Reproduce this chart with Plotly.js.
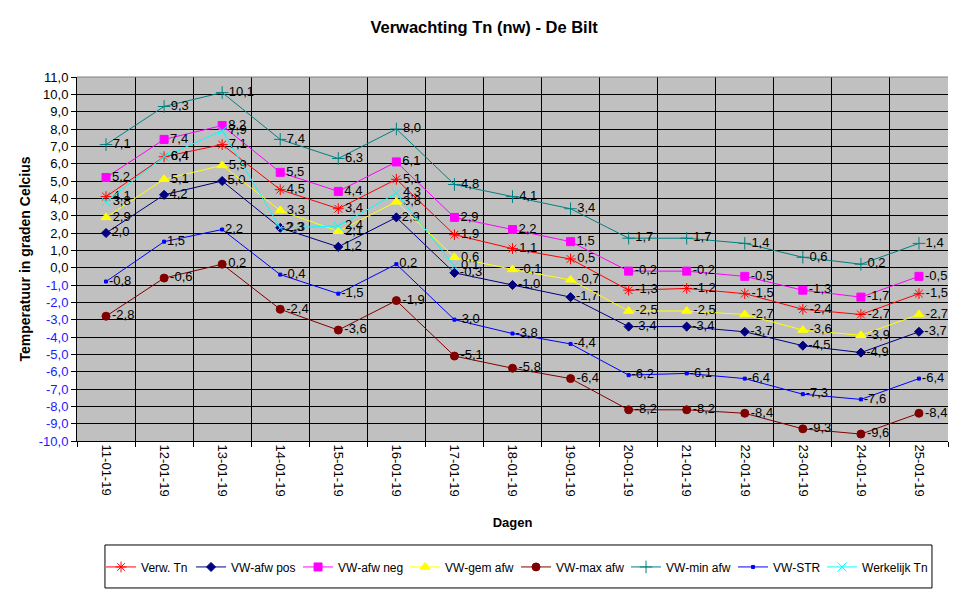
<!DOCTYPE html>
<html>
<head>
<meta charset="utf-8">
<script src="https://cdn.plot.ly/plotly-3.0.1.min.js"></script>
<style>
  html, body { margin: 0; padding: 0; background: #fff; }
  #chart { width: 974px; height: 598px; }
</style>
</head>
<body>
<div id="chart"></div>
<script>
const dagen = ['11-01-19', '12-01-19', '13-01-19', '14-01-19', '15-01-19', '16-01-19', '17-01-19', '18-01-19',
    '19-01-19', '20-01-19', '21-01-19', '22-01-19', '23-01-19', '24-01-19', '25-01-19'];

const verwTn    = [4.1, 6.4, 7.1, 4.5, 3.4, 5.1, 1.9, 1.1, 0.5, -1.3, -1.2, -1.5, -2.4, -2.7, -1.5];
const afwPos    = [2.0, 4.2, 5.0, 2.3, 1.2, 2.9, -0.3, -1.0, -1.7, -3.4, -3.4, -3.7, -4.5, -4.9, -3.7];
const afwNeg    = [5.2, 7.4, 8.2, 5.5, 4.4, 6.1, 2.9, 2.2, 1.5, -0.2, -0.2, -0.5, -1.3, -1.7, -0.5];
const gemAfw    = [2.9, 5.1, 5.9, 3.3, 2.1, 3.8, 0.6, -0.1, -0.7, -2.5, -2.5, -2.7, -3.6, -3.9, -2.7];
const maxAfw    = [-2.8, -0.6, 0.2, -2.4, -3.6, -1.9, -5.1, -5.8, -6.4, -8.2, -8.2, -8.4, -9.3, -9.6, -8.4];
const minAfw    = [7.1, 9.3, 10.1, 7.4, 6.3, 8.0, 4.8, 4.1, 3.4, 1.7, 1.7, 1.4, 0.6, 0.2, 1.4];
const vwStr     = [-0.8, 1.5, 2.2, -0.4, -1.5, 0.2, -3.0, -3.8, -4.4, -6.2, -6.1, -6.4, -7.3, -7.6, -6.4];
const werkelijk = [3.8, 6.4, 7.9, 2.3, 2.4, 4.3, 0.1, null, null, null, null, null, null, null, null];

const yTicks = [11, 10, 9, 8, 7, 6, 5, 4, 3, 2, 1, 0, -1, -2, -3, -4, -5, -6, -7, -8, -9, -10];

const FONT = 'Liberation Sans, Arial, sans-serif';

// Dutch decimal comma
const nl = v => (v === null ? '' : v.toFixed(1).replace('.', ','));

function serie(name, y, color, symbol, size, legW) {
    return {
        x: dagen, y: y, name: name,
        type: 'scatter', mode: 'lines+markers+text',
        text: y.map(nl), textposition: 'middle right',
        textfont: { family: FONT, size: 13, color: '#000' },
        line: { color: color, width: 1 },
        marker: { color: color, symbol: symbol, size: size, line: { color: color, width: 1 } },
        legendwidth: legW,
        cliponaxis: false,
        connectgaps: false
    };
}

const traces = [
    serie('Verw. Tn', verwTn, '#FF0000', 'asterisk-open', 9, 45),
    serie('VW-afw pos', afwPos, '#000080', 'diamond', 7, 62),
    serie('VW-afw neg', afwNeg, '#FF00FF', 'square', 8, 62),
    serie('VW-gem afw', gemAfw, '#FFFF00', 'triangle-up', 9, 66),
    serie('VW-max afw', maxAfw, '#800000', 'circle', 8, 65),
    serie('VW-min afw', minAfw, '#008080', 'cross-thin-open', 9, 62),
    serie('VW-STR', vwStr, '#0000FF', 'square', 3, 44),
    serie('Werkelijk Tn', werkelijk, '#00FFFF', 'x-thin-open', 9, 65)
];

const layout = {
    width: 974, height: 598,
    paper_bgcolor: '#FFFFFF', plot_bgcolor: '#C0C0C0',
    font: { family: FONT, size: 13, color: '#000' },
    margin: { t: 77, b: 157, l: 77, r: 26 },
    title: {
        text: '<b>Verwachting Tn (nw) - De Bilt</b>',
        font: { family: FONT, size: 16.5, color: '#000' },
        x: 0.497, xanchor: 'center', y: 0.955, yanchor: 'middle'
    },
    xaxis: {
        type: 'category',
        range: [-0.5, 14.5],
        tickson: 'boundaries',
        ticks: 'outside', ticklen: 5, tickcolor: '#000',
        tickangle: 90,
        tickfont: { family: FONT, size: 13, color: '#000' },
        showgrid: true, gridcolor: '#000', gridwidth: 1,
        showline: true, linecolor: '#000', linewidth: 1,
        zeroline: false, fixedrange: true,
        title: { text: '<b>Dagen</b>', font: { family: FONT, size: 13 }, standoff: 22 }
    },
    yaxis: {
        range: [-10, 11],
        tickmode: 'array',
        tickvals: yTicks,
        ticktext: yTicks.map(v => v < 0 ? '<span style="color:#1a1aff">' + nl(v) + '</span>' : nl(v)),
        ticks: 'outside', ticklen: 5, tickcolor: '#000',
        tickfont: { family: FONT, size: 13, color: '#000' },
        showgrid: true, gridcolor: '#000', gridwidth: 1,
        showline: true, linecolor: '#000', linewidth: 1,
        zeroline: false, fixedrange: true,
        title: { text: '<b>Temperatuur in graden Celcius</b>', font: { family: FONT, size: 14 }, standoff: 4 }
    },
    showlegend: true,
    legend: {
        orientation: 'h',
        x: 0.0276, xanchor: 'left',
        y: -0.346, yanchor: 'middle',
        bgcolor: 'rgba(0,0,0,0)', borderwidth: 0,
        font: { family: FONT, size: 12, color: '#000' },
        itemwidth: 30,
        itemclick: false, itemdoubleclick: false
    },
    shapes: [
        // legend frame
        { type: 'rect', xref: 'paper', yref: 'paper', x0: 0.0321, x1: 0.9816, y0: -0.2857, y1: -0.4038,
          line: { color: '#000', width: 1 }, fillcolor: 'rgba(0,0,0,0)' },
        // grey top border of plot area
        { type: 'line', xref: 'paper', yref: 'paper', x0: 0, x1: 1, y0: 1, y1: 1,
          line: { color: '#808080', width: 1 } }
    ]
};

Plotly.newPlot('chart', traces, layout, { displayModeBar: false, staticPlot: true });
</script>
</body>
</html>
